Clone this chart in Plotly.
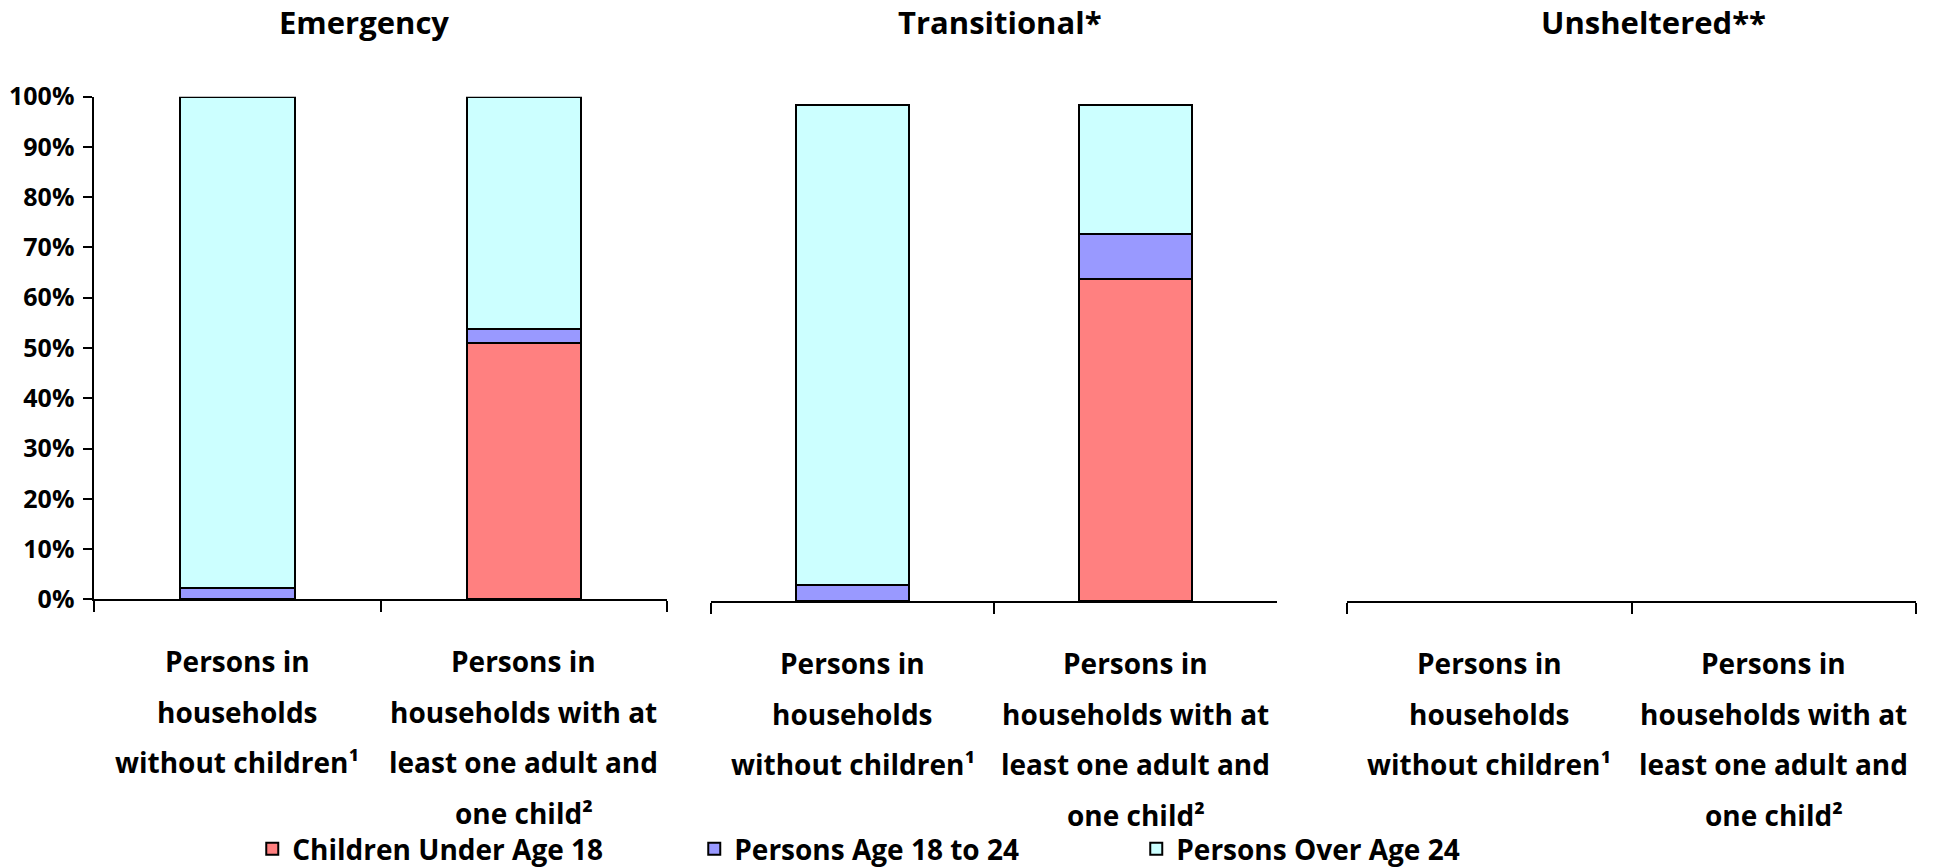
import plotly.graph_objects as go

# ---------------- data ----------------
panel_titles = ["Emergency", "Transitional*", "Unsheltered**"]
categories = ["Persons in<br>households<br>without children¹",
              "Persons in<br>households with at<br>least one adult and<br>one child²"]
series_names = ["Children Under Age 18", "Persons Age 18 to 24", "Persons Over Age 24"]
series_colors = ["#FF8080", "#9999FF", "#CCFFFF"]

emergency_under18 = [0.0, 0.510]
emergency_18to24 = [0.023, 0.028]
emergency_over24 = [0.977, 0.462]

transitional_under18 = [0.0, 0.642]
transitional_18to24 = [0.032, 0.088]
transitional_over24 = [0.956, 0.258]

unsheltered_under18 = [None, None]
unsheltered_18to24 = [None, None]
unsheltered_over24 = [None, None]

y_ticks = [0, 0.1, 0.2, 0.3, 0.4, 0.5, 0.6, 0.7, 0.8, 0.9, 1.0]

panel_values = [
    [emergency_under18, emergency_18to24, emergency_over24],
    [transitional_under18, transitional_18to24, transitional_over24],
    [unsheltered_under18, unsheltered_18to24, unsheltered_over24],
]

# ---------------- layout geometry ----------------
W, H = 1933, 868
FONT = "Open Sans"
x_domains = [[94.2 / W, 667.2 / W], [711 / W, 1277 / W], [1347 / W, 1916 / W]]
y_domains = [[1 - 599.3 / H, 1 - 96.7 / H], [1 - 601.3 / H, 1 - 98.7 / H], [1 - 601.3 / H, 1 - 98.7 / H]]
zero_px = [599.3, 601.3, 601.3]
title_x_px = [364, 1000, 1653]

fig = go.Figure()

for p in range(3):
    xa = "x" if p == 0 else f"x{p+1}"
    ya = "y" if p == 0 else f"y{p+1}"
    for s in range(3):
        fig.add_trace(go.Bar(
            x=categories, y=panel_values[p][s], name=series_names[s],
            marker=dict(color=series_colors[s], line=dict(color="black", width=2)),
            xaxis=xa, yaxis=ya, showlegend=(p == 0), legendgroup=series_names[s],
        ))

axis_common_x = dict(type="category", categoryorder="array", categoryarray=categories,
                     range=[-0.5, 1.5], showline=True, linecolor="black", linewidth=1.5,
                     ticks="outside", tickson="boundaries", ticklen=11, tickwidth=1.5,
                     tickcolor="black", showticklabels=False, showgrid=False, zeroline=False,
                     fixedrange=True)

layout = dict(
    width=W, height=H, autosize=False,
    margin=dict(l=0, r=0, t=0, b=0, autoexpand=False),
    paper_bgcolor="white", plot_bgcolor="white",
    barmode="stack", bargap=0.6,
    font=dict(family=FONT, color="black"),
    showlegend=True,
    legend=dict(orientation="h", x=0.1305, xanchor="left", y=1 - 849 / H, yanchor="middle",
                font=dict(family=FONT, size=28, color="black", weight="bold"),
                traceorder="normal", entrywidth=397, itemwidth=30),
)

for p in range(3):
    xk = "xaxis" if p == 0 else f"xaxis{p+1}"
    yk = "yaxis" if p == 0 else f"yaxis{p+1}"
    ya_name = "y" if p == 0 else f"y{p+1}"
    xa_name = "x" if p == 0 else f"x{p+1}"
    layout[xk] = dict(axis_common_x, domain=x_domains[p], anchor=ya_name)
    if p == 0:
        layout[yk] = dict(domain=y_domains[p], anchor=xa_name, range=[0, 1],
                          tickvals=y_ticks, tickformat=".0%", showline=True,
                          linecolor="black", linewidth=1.5, ticks="outside", ticklen=9,
                          tickwidth=1.5, tickcolor="black", showgrid=False, zeroline=False,
                          tickfont=dict(family=FONT, size=25, color="black", weight="bold"),
                          ticklabelstandoff=4, fixedrange=True)
    else:
        layout[yk] = dict(domain=y_domains[p], anchor=xa_name, range=[0, 1],
                          visible=False, showgrid=False, zeroline=False, fixedrange=True)

fig.update_layout(**layout)

annotations = []
for p in range(3):
    annotations.append(dict(
        text="<b>" + panel_titles[p] + "</b>", xref="paper", yref="paper",
        x=title_x_px[p] / W, y=1 - 22 / H, xanchor="center", yanchor="middle",
        showarrow=False, font=dict(family=FONT, size=31, color="black")))
    xa_name = "x" if p == 0 else f"x{p+1}"
    for ci, cat in enumerate(categories):
        for li, line in enumerate(cat.split("<br>")):
            ypx = zero_px[p] + 62 + 50.5 * li
            annotations.append(dict(
                text="<b>" + line + "</b>", xref=xa_name, yref="paper",
                x=ci, y=1 - ypx / H, xanchor="center", yanchor="middle",
                showarrow=False, font=dict(family=FONT, size=28, color="black")))

fig.update_layout(annotations=annotations)

fig.write_html("out.html", config={"displayModeBar": False},
               post_script="document.body.style.margin='0';")
